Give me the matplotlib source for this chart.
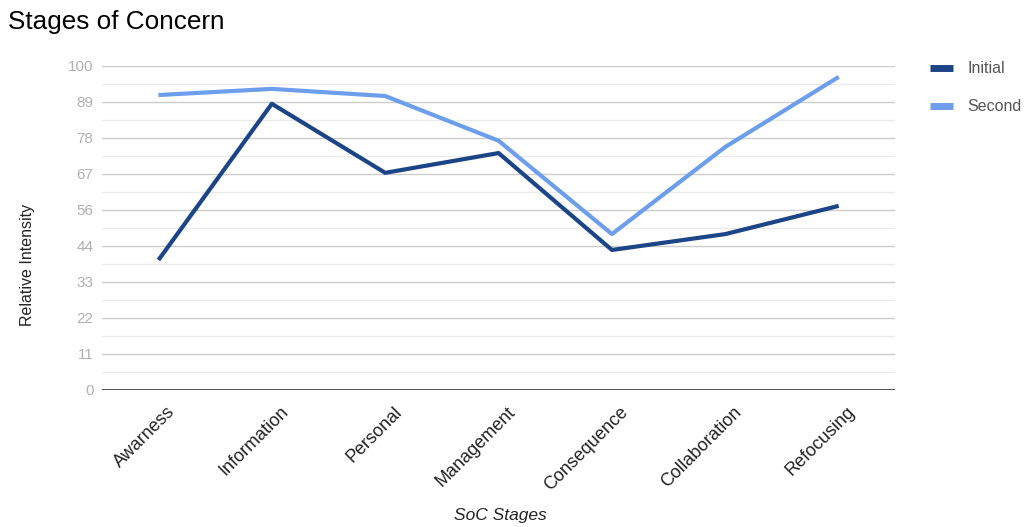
import numpy as np
import matplotlib
matplotlib.use("Agg")
import matplotlib.pyplot as plt
import matplotlib.transforms as mtransforms

plt.rcParams['font.family'] = ['Liberation Sans', 'DejaVu Sans']

STAGES   = ["Awarness", "Information", "Personal", "Management",
            "Consequence", "Collaboration", "Refocusing"]
INITIAL  = [40.1, 88.3, 67.0, 73.1, 43.2, 48.1, 56.8]
SECOND   = [91.0, 92.9, 90.7, 76.9, 48.1, 75.0, 96.6]
Y_TICKS  = [0, 11, 22, 33, 44, 56, 67, 78, 89, 100]

DARK  = "#1c4587"
LIGHT = "#6d9eeb"


def main():
    fig = plt.figure(figsize=(10.28, 5.27), dpi=100)
    ax = fig.add_axes([0.099, 0.26, 0.772, 0.615])

    x = np.arange(len(STAGES))
    ax.plot(x, INITIAL, color=DARK, lw=3.0, label="Initial", solid_capstyle="butt")
    ax.plot(x, SECOND, color=LIGHT, lw=3.0, label="Second", solid_capstyle="butt")

    # gridlines: major at every 100/9, minor halfway
    step = 100 / 9
    major = np.arange(10) * step
    minor = major[:-1] + step / 2
    for v in major[1:]:
        ax.axhline(v, color="#cccccc", lw=1.0, zorder=0)
    for v in minor:
        ax.axhline(v, color="#ebebeb", lw=1.0, zorder=0)
    ax.axhline(0, color="#333333", lw=1.2, zorder=1)

    ax.set_xlim(-0.5, len(STAGES) - 0.5)
    ax.set_ylim(0, 100)
    ax.tick_params(length=0, pad=6)
    ax.set_yticks(major)
    ax.set_yticklabels([str(t) for t in Y_TICKS], color="#b0b0b0", fontsize=11)
    ax.set_xticks(x)
    ax.set_xticklabels(STAGES, rotation=45, ha="right", va="center",
                       rotation_mode="anchor", color="#222222", fontsize=13)
    # tick_params resets label transforms, so shift after it
    off = mtransforms.ScaledTranslation(0.14, -0.11, fig.dpi_scale_trans)
    for lbl in ax.get_xticklabels():
        lbl.set_transform(lbl.get_transform() + off)
    for s in ax.spines.values():
        s.set_visible(False)

    ax.set_ylabel("Relative Intensity", color="#222222", fontsize=11.5, va="center")
    ax.yaxis.set_label_coords(-0.094, 0.386)
    ax.set_xlabel("SoC Stages", color="#222222", fontsize=12.5, style="italic", va="center")
    ax.xaxis.set_label_coords(0.502, -0.386)

    fig.text(0.008, 0.958, "Stages of Concern", fontsize=18.8, color="#000000",
             ha="left", va="center")

    leg = fig.legend(loc="upper left", bbox_to_anchor=(0.905, 0.884), frameon=False,
                     borderpad=0, borderaxespad=0,
                     handlelength=1.4, handletextpad=0.9, labelspacing=1.45,
                     fontsize=11.5, labelcolor="#555555")
    for h in leg.get_lines():
        h.set_linewidth(5)

    fig.savefig("out.png", dpi=100)


if __name__ == "__main__":
    main()
